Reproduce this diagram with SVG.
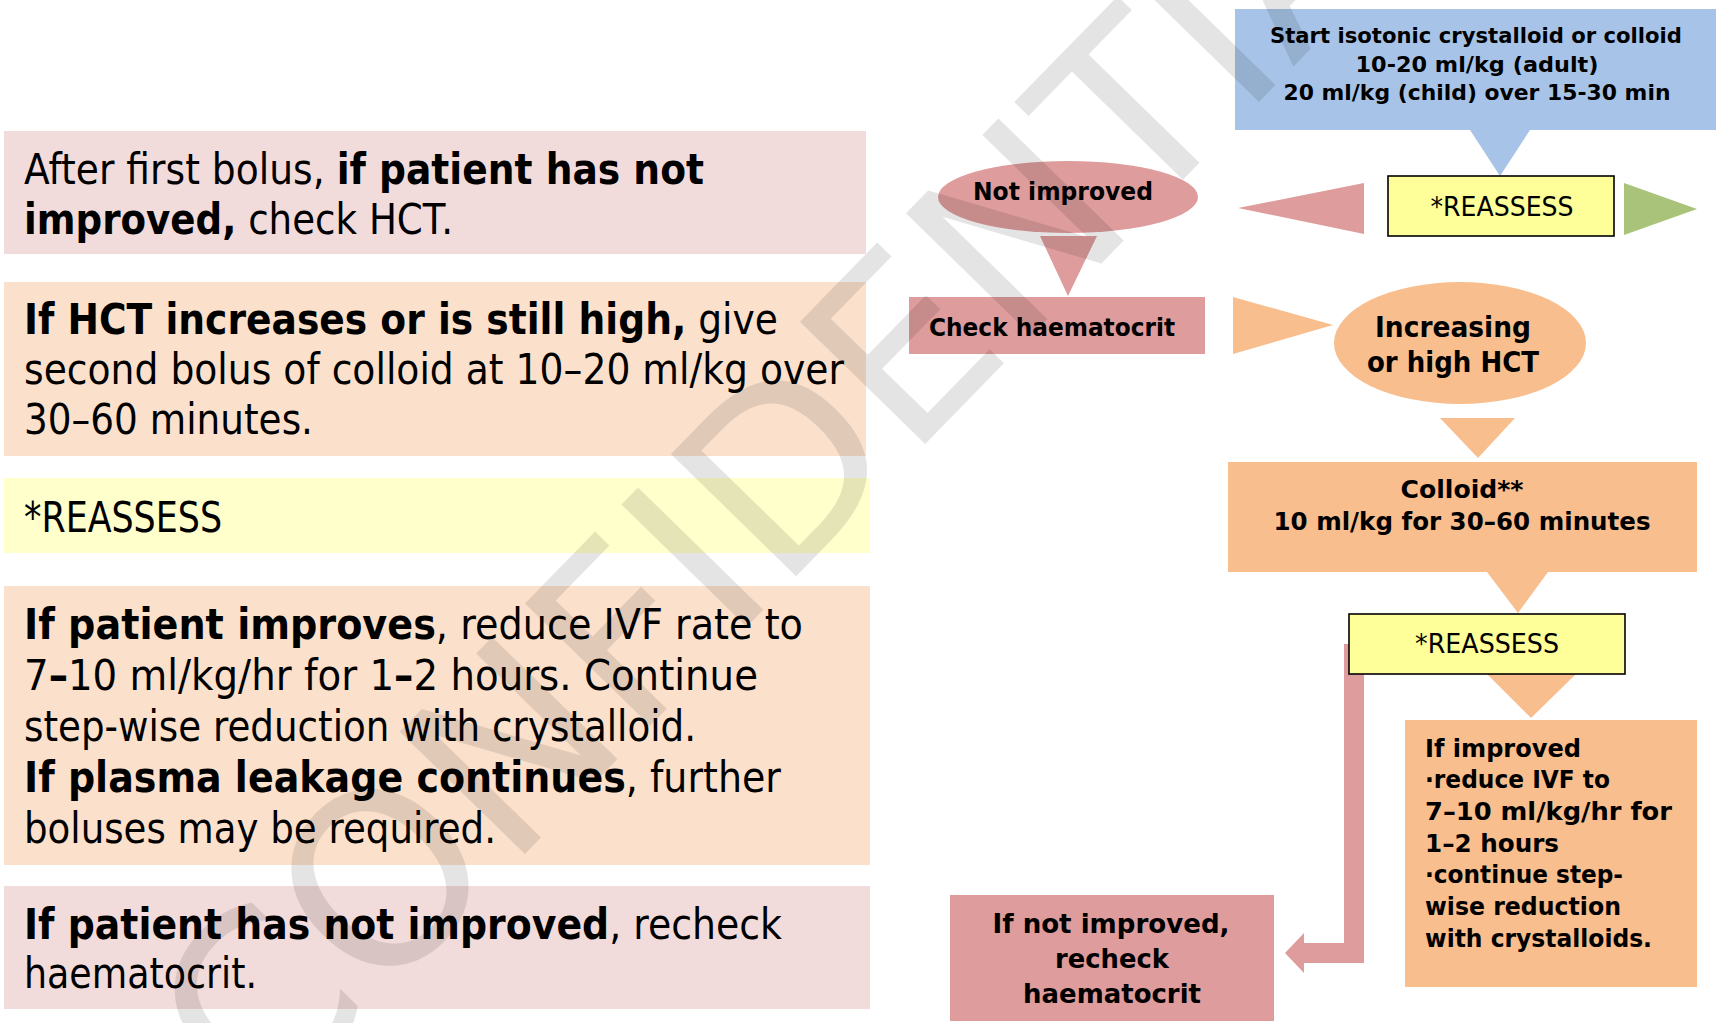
<svg xmlns="http://www.w3.org/2000/svg" width="1716" height="1023" viewBox="0 0 1716 1023">
<style>
.lt{font-family:"DejaVu Sans","Liberation Sans",sans-serif;font-size:43px;fill:#000}
.b{font-weight:bold}
.nt{font-family:"DejaVu Sans","Liberation Sans",sans-serif;font-weight:bold;fill:#000;text-anchor:middle}
.rg{font-family:"DejaVu Sans","Liberation Sans",sans-serif;fill:#000;text-anchor:middle;font-size:26px}
.pink{fill:#de9c9c}
.orange{fill:#f8be8e}
.blue{fill:#a7c4e8}
.yel{fill:#ffff99;stroke:#000;stroke-width:1.6}
.green{fill:#a9c47a}
.wm{font-family:"DejaVu Sans","Liberation Sans",sans-serif;font-size:240px;fill:#000}
</style>
<rect width="1716" height="1023" fill="#fff"/>

<g id="box-first-bolus">
<rect x="4" y="131" width="862" height="123" fill="#f2dcdb"/>
<text class="lt" x="24" y="184" textLength="680" lengthAdjust="spacingAndGlyphs">After first bolus, <tspan class="b">if patient has not</tspan></text>
<text class="lt" x="24" y="234" textLength="429" lengthAdjust="spacingAndGlyphs"><tspan class="b">improved,</tspan> check HCT.</text>
</g>
<g id="box-hct-high">
<rect x="4" y="282" width="862" height="174" fill="#fbe1cc"/>
<text class="lt" x="24" y="334" textLength="754" lengthAdjust="spacingAndGlyphs"><tspan class="b">If HCT increases or is still high,</tspan> give</text>
<text class="lt" x="24" y="384" textLength="820" lengthAdjust="spacingAndGlyphs">second bolus of colloid at 10–20 ml/kg over</text>
<text class="lt" x="24" y="434" textLength="289" lengthAdjust="spacingAndGlyphs">30–60 minutes.</text>
</g>
<g id="box-reassess-left">
<rect x="4" y="478" width="866" height="75" fill="#ffffcc"/>
<text class="lt" x="24" y="532" textLength="198" lengthAdjust="spacingAndGlyphs">*REASSESS</text>
</g>
<g id="box-improves">
<rect x="4" y="586" width="866" height="279" fill="#fbe1cc"/>
<text class="lt" x="24" y="639" textLength="779" lengthAdjust="spacingAndGlyphs"><tspan class="b">If patient improves</tspan>, reduce IVF rate to</text>
<text class="lt" x="24" y="690" textLength="734" lengthAdjust="spacingAndGlyphs">7<tspan class="b">–</tspan>10 ml/kg/hr for 1<tspan class="b">–</tspan>2 hours. Continue</text>
<text class="lt" x="24" y="741" textLength="672" lengthAdjust="spacingAndGlyphs">step-wise reduction with crystalloid.</text>
<text class="lt" x="24" y="792" textLength="757" lengthAdjust="spacingAndGlyphs"><tspan class="b">If plasma leakage continues</tspan>, further</text>
<text class="lt" x="24" y="843" textLength="472" lengthAdjust="spacingAndGlyphs">boluses may be required.</text>
</g>
<g id="box-not-improved-left">
<rect x="4" y="886" width="866" height="123" fill="#f2dcdb"/>
<text class="lt" x="24" y="939" textLength="758" lengthAdjust="spacingAndGlyphs"><tspan class="b">If patient has not improved</tspan>, recheck</text>
<text class="lt" x="24" y="988" textLength="233" lengthAdjust="spacingAndGlyphs">haematocrit.</text>
</g>

<g id="connectors">
<polygon class="blue" points="1470,130 1530,130 1500,176"/>
<polygon class="pink" points="1364,183 1364,234 1238,208"/>
<polygon class="green" points="1624,183 1624,235 1697,209"/>
<polygon class="pink" points="1040,236 1097,236 1068,296"/>
<polygon class="orange" points="1233,297 1333,325 1233,354"/>
<polygon class="orange" points="1440,418 1515,418 1478,458"/>
<polygon class="orange" points="1487,572 1548,572 1518,613"/>
<polygon class="orange" points="1487,674 1576,674 1531,718"/>
<polygon class="pink" points="1344,644 1364,644 1364,963 1304,963 1304,973 1285,953 1304,933 1304,943 1344,943"/>
</g>

<g id="node-start">
<rect class="blue" x="1235" y="9" width="481" height="121"/>
<text class="nt" x="1476" y="43" font-size="22" textLength="412" lengthAdjust="spacingAndGlyphs">Start isotonic crystalloid or colloid</text>
<text class="nt" x="1477" y="72" font-size="22" textLength="243" lengthAdjust="spacingAndGlyphs">10-20 ml/kg (adult)</text>
<text class="nt" x="1477" y="100" font-size="22" textLength="387" lengthAdjust="spacingAndGlyphs">20 ml/kg (child) over 15-30 min</text>
</g>
<g id="node-reassess-1">
<rect class="yel" x="1388" y="176" width="226" height="60"/>
<text class="rg" x="1502" y="216" textLength="143" lengthAdjust="spacingAndGlyphs">*REASSESS</text>
</g>
<g id="node-not-improved">
<ellipse class="pink" cx="1068" cy="197" rx="130" ry="36"/>
<text class="nt" x="1063" y="200" font-size="25" textLength="180" lengthAdjust="spacingAndGlyphs">Not improved</text>
</g>
<g id="node-check-hct">
<rect class="pink" x="909" y="297" width="296" height="57"/>
<text class="nt" x="1052" y="336" font-size="25" textLength="246" lengthAdjust="spacingAndGlyphs">Check haematocrit</text>
</g>
<g id="node-increasing">
<ellipse class="orange" cx="1460" cy="343" rx="126" ry="61"/>
<text class="nt" x="1453" y="337" font-size="29" textLength="156" lengthAdjust="spacingAndGlyphs">Increasing</text>
<text class="nt" x="1453" y="372" font-size="29" textLength="172" lengthAdjust="spacingAndGlyphs">or high HCT</text>
</g>
<g id="node-colloid">
<rect class="orange" x="1228" y="462" width="469" height="110"/>
<text class="nt" x="1462" y="498" font-size="25" textLength="123" lengthAdjust="spacingAndGlyphs">Colloid**</text>
<text class="nt" x="1462" y="530" font-size="25" textLength="377" lengthAdjust="spacingAndGlyphs">10 ml/kg for 30–60 minutes</text>
</g>
<g id="node-reassess-2">
<rect class="yel" x="1349" y="614" width="276" height="60"/>
<text class="rg" x="1487" y="653" textLength="144" lengthAdjust="spacingAndGlyphs">*REASSESS</text>
</g>
<g id="node-if-improved">
<rect class="orange" x="1405" y="720" width="292" height="267"/>
<g font-family="DejaVu Sans, Liberation Sans, sans-serif" font-weight="bold" font-size="25">
<text x="1425" y="757" textLength="156" lengthAdjust="spacingAndGlyphs">If improved</text>
<text x="1425" y="788" textLength="185" lengthAdjust="spacingAndGlyphs">·reduce IVF to</text>
<text x="1425" y="820" textLength="247" lengthAdjust="spacingAndGlyphs">7–10 ml/kg/hr for</text>
<text x="1425" y="852" textLength="134" lengthAdjust="spacingAndGlyphs">1–2 hours</text>
<text x="1425" y="883" textLength="198" lengthAdjust="spacingAndGlyphs">·continue step-</text>
<text x="1425" y="915" textLength="196" lengthAdjust="spacingAndGlyphs">wise reduction</text>
<text x="1425" y="947" textLength="227" lengthAdjust="spacingAndGlyphs">with crystalloids.</text>
</g>
</g>
<g id="node-recheck">
<rect class="pink" x="950" y="895" width="324" height="126"/>
<text class="nt" x="1111" y="933" font-size="27" textLength="237" lengthAdjust="spacingAndGlyphs">If not improved,</text>
<text class="nt" x="1112" y="968" font-size="27" textLength="114" lengthAdjust="spacingAndGlyphs">recheck</text>
<text class="nt" x="1112" y="1003" font-size="27" textLength="178" lengthAdjust="spacingAndGlyphs">haematocrit</text>
</g>

<g id="watermark" opacity="0.1">
<text class="wm" transform="translate(259.5,1126) rotate(-45.7)">CONFIDENTIAL</text>
</g>
</svg>
